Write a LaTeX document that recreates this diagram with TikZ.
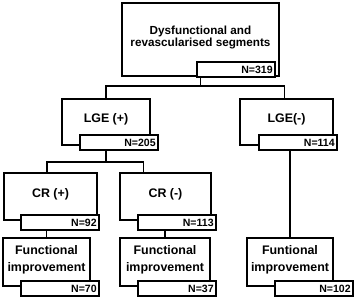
\documentclass[tikz,border=0pt]{standalone}
\usepackage{fontspec}
\setmainfont{Liberation Sans}
\usepackage{tikz}
\usetikzlibrary{positioning,calc}
\tikzset{
	box/.style 2 args={draw=black,fill=white,line width=1.5pt,anchor=north west,
		minimum width=#1,minimum height=#2,align=center,text depth=6pt,
		font=\fontsize{10.6}{12.5}\selectfont\bfseries,outer sep=0pt},
	nbox/.style={draw=black,fill=white,line width=1.5pt,anchor=north west,
		text width=2.2cm,inner xsep=0.07cm,inner ysep=0pt,minimum height=0.46cm,
		align=right,font=\fontsize{9}{10}\selectfont\bfseries,outer sep=0pt},
	link/.style={draw=black,line width=1.5pt},
}
\begin{document}
\begin{tikzpicture}[x=0.03cm,y=-0.03cm]
	\useasboundingbox (0,0) rectangle (358,299);
	% level 0
	\node[box={4.71cm}{2.19cm},font=\fontsize{10}{12}\selectfont\bfseries] (top) at (122,3) {Dysfunctional and\\[-1.8pt]revascularised segments};
	\node[nbox] (n319) at (197,62) {N=319};
	% level 1
	\node[box={2.64cm}{1.38cm}] (lgep) at (62,99) {LGE (+)};
	\node[nbox] (n205) at (80,135) {N=205};
	\node[box={2.79cm}{1.38cm}] (lgem) at (240,99) {LGE(-)};
	\node[nbox] (n114) at (259,135) {N=114};
	% level 2
	\node[box={2.79cm}{1.41cm}] (crp) at (4,173) {CR (+)};
	\node[nbox] (n92) at (21,215) {N=92};
	\node[box={2.73cm}{1.41cm}] (crm) at (120,173) {CR (-)};
	\node[nbox] (n113) at (138,215) {N=113};
	% level 3
	\node[box={2.61cm}{1.44cm}] (fl) at (3,238) {Functional\\[2.5pt]improvement};
	\node[nbox] (n70) at (21,281) {N=70};
	\node[box={2.70cm}{1.44cm}] (fm) at (120,238) {Functional\\[2.5pt]improvement};
	\node[nbox] (n37) at (138,281) {N=37};
	\node[box={2.58cm}{1.44cm}] (fr) at (247,238) {Funtional\\[2.5pt]improvement};
	\node[nbox] (n102) at (275,281) {N=102};
	% connectors
	\draw[link] (top.center |- n319.south) -- ++(0,9) -| (lgep.north);
	\draw[link] (top.center |- n319.south) -- ++(0,9) -| ([xshift=-0.06cm]lgem.north);
	\draw[link] (lgep.center |- n205.south) -- ++(0,12) -| ([xshift=-0.1cm]crp.north);
	\draw[link] (lgep.center |- n205.south) -- ++(0,12) -| ([xshift=-0.66cm]crm.north);
	\draw[link] (fl.north |- n92.south) -- (fl.north);
	\draw[link] (fm.north |- n113.south) -- (fm.north);
	\draw[link] (fr.north |- n114.south) -- (fr.north);
\end{tikzpicture}
\end{document}
